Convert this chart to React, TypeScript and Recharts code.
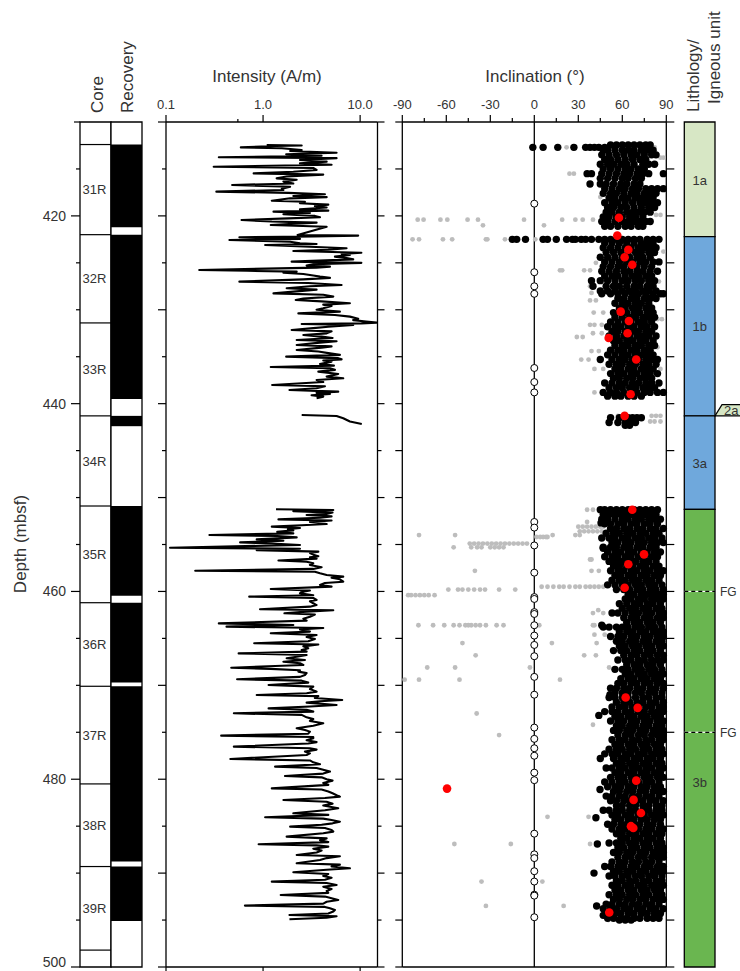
import React from 'react';
import { ComposedChart, Scatter, XAxis, YAxis, ReferenceArea, ReferenceLine } from 'recharts';

const W = 740;
const H = 971;
const TOP = 122;
const BOTTOM = 4;
const AX = 1; // reserved axis thickness (recharts skips axes of size 0)
const FONT = '"Liberation Sans", Arial, Helvetica, sans-serif';
const INK = '#000';
const TEXT = '#333';

// depth axis (mbsf)
const depthDomain = [410, 500];
const depthTicks = [410, 415, 420, 425, 430, 435, 440, 445, 450, 455, 460, 465, 470, 475, 480, 485, 490, 495, 500];
const depthLabelTicks = [420, 440, 460, 480, 500];

// cores + recovery
const coreNames = ['31R', '32R', '33R', '34R', '35R', '36R', '37R', '38R', '39R'];
const coreTops = [412.4, 422.0, 431.4, 441.3, 450.9, 461.2, 470.1, 480.5, 489.3];
const coreBases = [422.0, 431.4, 441.3, 450.9, 461.2, 470.1, 480.5, 489.3, 498.2];
const recoveryTops = [412.4, 422.0, 431.4, 441.3, 450.9, 461.2, 470.1, 480.5, 489.3];
const recoveryBases = [421.2, 431.4, 439.5, 442.4, 460.45, 469.7, 480.5, 488.75, 495.1];

// intensity (A/m)
const intensityDomain = [0.1, 15.1];
const intensityTicks = [0.1, 1, 10];
const intensityTickLabels = ['0.1', '1.0', '10.0'];
const intensityMinorTicks = [0.55];

// [depth, intensity]
const intensityUpper = [
  [412.45, 1.09], [412.5, 2.5], [412.56, 1.36], [412.7, 0.59], [412.8, 1.56], [412.98, 2.5], [413.09, 1.9], [413.27, 5.72],
  [413.44, 1.73], [413.6, 4.01], [413.76, 0.35], [413.85, 5.72], [414.05, 2.4], [414.22, 4.52], [414.4, 2.4], [414.55, 5.08],
  [414.76, 0.31], [414.9, 3.29], [415.11, 3.56], [415.3, 2.05], [415.47, 0.8], [415.6, 4.17], [415.8, 1.75], [416.0, 1.38],
  [416.15, 2.22], [416.35, 1.62], [416.55, 2.05], [416.71, 0.48], [416.9, 1.9], [417.1, 1.56], [417.24, 1.62], [417.42, 0.33],
  [417.55, 1.82], [417.7, 4.34], [417.88, 2.05], [418.0, 4.52], [418.13, 1.9], [418.38, 1.23], [418.5, 2.7], [418.66, 2.4],
  [418.8, 4.7], [418.95, 3.42], [419.1, 4.52], [419.3, 2.4], [419.44, 4.7], [419.55, 1.28], [419.7, 3.04], [419.83, 1.62],
  [420.0, 3.42], [420.15, 3.86], [420.26, 1.82], [420.44, 0.6], [420.6, 1.23], [420.72, 3.56], [420.97, 1.2], [421.15, 4.52],
  [422.03, 2.27], [422.1, 9.55], [422.2, 3.29], [422.28, 0.57], [422.45, 2.4], [422.57, 0.45], [422.75, 1.9], [422.92, 2.4],
  [423.0, 3.56], [423.1, 1.05], [423.28, 3.04], [423.45, 7.25], [423.6, 4.7], [423.74, 2.05], [423.92, 10.3], [424.05, 6.44],
  [424.16, 7.85], [424.34, 5.5], [424.5, 7.25], [424.63, 8.49], [424.87, 1.97], [425.0, 10.3], [425.15, 3.29], [425.3, 2.81],
  [425.4, 4.89], [425.51, 3.56], [425.76, 0.22], [425.85, 0.68], [425.94, 2.22], [426.05, 1.62], [426.19, 2.6], [426.35, 3.29],
  [426.47, 3.86], [426.6, 4.89], [426.76, 2.6], [427.0, 0.57], [427.15, 2.92], [427.36, 6.44], [427.5, 3.04], [427.71, 1.75],
  [427.85, 3.56], [428.25, 1.28], [428.4, 4.17], [428.6, 5.29], [428.8, 2.6], [428.96, 2.17], [429.1, 4.01], [429.31, 7.85],
  [429.45, 4.17], [429.6, 5.08], [429.84, 4.17], [430.0, 3.56], [430.2, 6.19], [430.38, 2.31], [430.55, 5.5], [430.73, 7.85],
  [430.95, 9.55], [431.1, 8.49], [431.25, 11.5], [431.37, 14.8], [431.45, 10.3], [431.51, 2.5], [431.62, 8.49], [431.8, 4.7],
  [431.95, 3.29], [432.15, 1.97], [432.3, 5.08], [432.51, 4.52], [432.68, 2.6], [432.86, 4.01], [433.0, 5.2], [433.22, 2.22],
  [433.35, 5.72], [433.5, 3.86], [433.75, 2.22], [433.9, 5.08], [434.03, 4.01], [434.28, 2.22], [434.45, 3.71], [434.64, 4.89],
  [434.8, 6.19], [434.99, 1.73], [435.15, 5.95], [435.28, 6.44], [435.4, 4.17], [435.52, 5.08], [435.77, 3.86], [435.95, 5.37],
  [436.1, 1.2], [436.23, 4.89], [436.4, 5.5], [436.59, 3.71], [436.84, 5.95], [437.12, 4.52], [437.3, 6.7], [437.48, 3.56],
  [437.7, 4.17], [438.01, 1.24], [438.15, 4.34], [438.36, 3.56], [438.55, 1.87], [438.72, 5.95], [438.85, 3.56], [438.97, 4.89],
  [439.1, 3.16], [439.25, 4.17], [439.43, 3.56],
];
const intensity34R = [[441.2, 2.5], [441.31, 5.72], [441.56, 6.7], [441.9, 7.85], [442.16, 10.4]];
const intensityLower = [
  [451.25, 1.36], [451.32, 5.29], [451.45, 2.05], [451.6, 5.2], [451.75, 4.5], [451.86, 2.81], [452.0, 5.08], [452.15, 3.86],
  [452.32, 1.44], [452.45, 5.08], [452.6, 3.04], [452.82, 4.52], [452.95, 2.5], [453.1, 1.23], [453.25, 2.4], [453.38, 1.8],
  [453.5, 2.05], [453.65, 1.4], [453.81, 2.05], [453.99, 0.28], [454.1, 1.4], [454.24, 2.22], [454.45, 0.86], [454.6, 1.62],
  [454.77, 0.58], [454.9, 1.23], [455.05, 2.4], [455.34, 0.11], [455.45, 2.4], [455.6, 0.86], [455.76, 3.71], [455.9, 3.04],
  [456.08, 3.29], [456.25, 3.71], [456.37, 3.04], [456.5, 3.56], [456.7, 1.44], [456.83, 2.81], [457.0, 3.29], [457.18, 3.04],
  [457.43, 4.01], [457.6, 3.29], [457.79, 0.2], [457.9, 3.42], [458.07, 3.86], [458.25, 4.52], [458.42, 6.7], [458.55, 5.08],
  [458.71, 6.19], [458.96, 6.7], [459.1, 4.34], [459.31, 3.86], [459.49, 5.08], [459.74, 1.2], [459.9, 3.04], [460.05, 2.5],
  [460.2, 2.4], [460.4, 3.29], [460.55, 0.72], [460.7, 3.29], [460.91, 3.56], [461.05, 3.04], [461.26, 3.29], [461.45, 3.56],
  [461.62, 3.04], [461.9, 0.93], [462.0, 5.29], [462.15, 2.81], [462.33, 1.66], [462.45, 3.42], [462.69, 3.04], [462.9, 2.6],
  [463.11, 2.81], [463.4, 0.35], [463.57, 2.05], [463.75, 0.42], [463.9, 4.17], [464.05, 2.4], [464.28, 3.04], [464.45, 1.2],
  [464.64, 3.56], [464.85, 2.81], [465.06, 3.42], [465.3, 2.92], [465.52, 0.81], [465.65, 3.71], [465.85, 2.6], [466.06, 2.92],
  [466.25, 2.5], [466.41, 2.81], [466.6, 0.56], [466.77, 2.81], [466.95, 2.22], [467.12, 1.75], [467.3, 2.7], [467.48, 1.62],
  [467.65, 2.4], [467.83, 2.6], [468.12, 0.47], [468.25, 1.2], [468.4, 2.4], [468.54, 2.31], [468.7, 2.81], [468.9, 2.7],
  [469.1, 2.4], [469.36, 0.54], [469.5, 2.5], [469.71, 2.92], [469.96, 1.14], [470.14, 3.29], [470.4, 3.04], [470.67, 3.56],
  [470.85, 2.81], [471.03, 0.86], [471.15, 3.71], [471.35, 3.42], [471.56, 6.54], [471.7, 3.86], [471.84, 2.81], [472.09, 5.72],
  [472.25, 3.04], [472.45, 1.14], [472.6, 2.81], [472.8, 3.29], [472.98, 0.5], [473.15, 2.5], [473.41, 2.81], [473.6, 3.29],
  [473.8, 3.04], [474.04, 4.17], [474.3, 3.29], [474.58, 2.22], [474.75, 2.7], [474.93, 3.04], [475.15, 2.92], [475.36, 0.37],
  [475.5, 3.29], [475.64, 3.29], [475.85, 2.81], [476.05, 3.56], [476.2, 2.92], [476.53, 0.5], [476.7, 3.04], [476.85, 3.56],
  [477.06, 2.7], [477.25, 3.04], [477.42, 2.81], [477.84, 0.46], [478.0, 3.04], [478.2, 3.29], [478.4, 3.86], [478.66, 1.33],
  [478.8, 3.56], [479.0, 4.17], [479.19, 4.89], [479.4, 4.17], [479.65, 1.68], [479.8, 4.01], [480.0, 4.52], [480.15, 5.2],
  [480.4, 4.17], [480.6, 4.7], [480.97, 1.23], [481.1, 4.01], [481.3, 4.7], [481.5, 5.2], [481.7, 5.72], [481.85, 6.19],
  [482.0, 4.34], [482.21, 1.62], [482.4, 4.52], [482.6, 5.2], [482.8, 4.17], [483.1, 5.95], [483.3, 4.34], [483.63, 2.05],
  [483.8, 4.7], [484.05, 1.05], [484.2, 4.17], [484.35, 5.08], [484.52, 6.19], [484.7, 5.2], [484.85, 4.01], [485.05, 1.9],
  [485.2, 4.34], [485.4, 5.08], [485.58, 5.29], [485.75, 4.17], [486.11, 1.75], [486.3, 4.52], [486.5, 3.86], [486.7, 4.7],
  [486.93, 0.9], [487.05, 3.56], [487.18, 4.7], [487.4, 3.29], [487.6, 4.01], [487.8, 3.56], [488.07, 2.22], [488.2, 6.19],
  [488.4, 4.52], [488.6, 3.86], [488.95, 2.22], [489.1, 6.19], [489.3, 5.08], [489.49, 7.85], [489.65, 4.52], [489.91, 2.05],
  [490.1, 4.7], [490.3, 4.17], [490.5, 5.08], [490.7, 4.34], [490.91, 1.23], [491.05, 4.52], [491.26, 5.72], [491.45, 4.17],
  [491.7, 5.08], [491.9, 4.52], [492.1, 4.7], [492.33, 1.52], [492.5, 4.34], [492.7, 5.2], [492.86, 5.95], [493.05, 4.52],
  [493.25, 4.17], [493.46, 0.65], [493.6, 4.34], [493.75, 4.89], [493.92, 5.5], [494.1, 5.29], [494.3, 4.7], [494.46, 1.87],
  [494.6, 5.72], [494.75, 4.52], [494.92, 1.87],
];

// inclination (°)
const inclinationTicks = [-90, -75, -60, -45, -30, -15, 0, 15, 30, 45, 60, 75, 90];
const inclinationLabelTicks = [-90, -60, -30, 0, 30, 60, 90];

// [depth, inclinations...] rows of grey (uncleaned) steps
const greyRows = [
  [412.7, [22, 82]], [413.8, [86, 88]], [415.5, [24, 27]], [417.3, [80, 84]], [418.0, [45]], [419.9, [83, 86]],
  [420.4, [-79.5, -75.5, -64, -59.3, -45.5, -38.4, -7, 19, 28, 33, 40]], [421.0, [-35, 6.6]],
  [422.5, [-83, -78.6, -62.3, -56, -33, -32, -20, 0.7]], [423.8, [74, 88]], [425.0, [42]], [425.8, [17.5, 19, 34, 38]],
  [427.0, [85]], [427.5, [38]], [428.2, [39, 46]], [429.0, [38, 42]], [430.3, [40.5, 47]], [431.0, [80, 84, 87]],
  [431.6, [38, 41, 46]], [432.5, [40, 46]], [432.9, [29, 33]], [434.0, [84]], [434.4, [39, 44]], [435.3, [32, 37]],
  [436.3, [41, 47, 82, 86]], [438.0, [80, 85]], [438.8, [41, 46]], [441.3, [57, 80, 83, 86]], [441.9, [79, 82, 86]],
  [451.3, [36, 40]], [452.6, [36]], [453.1, [30, 33, 36, 39, 42, 45, 47]], [453.6, [31, 34, 37, 40, 43, 46]],
  [454.0, [-78.6, -54, 12.5, 28, 31]], [454.2, [1.5, 4, 6, 8, 9]],
  [454.9, [-44, -41, -38, -35, -32, -29, -26, -23, -20, -17, -14, -11, -8, -5]],
  [455.3, [-55, -43, -39, -36, -30, -27, -24, -21]], [456.6, [38, 39]], [457.8, [-40.5, 39, 44]],
  [459.5, [5, 9, 13, 17, 20, 24, 28, 31, 35, 38, 41, 44, 47]],
  [459.8, [-58.6, -52, -49, -45, -41, -37, -33.6, -24, -13]], [460.4, [-86, -84, -81, -78, -75, -72, -68]],
  [462.0, [43.6]], [462.3, [40, 47]],
  [463.6, [-79, -69, -61.4, -55, -51, -47, -45, -43, -40, -37, -33, -25.7, -21, 3.4, 40, 41]],
  [464.6, [41, 48]], [465.5, [-49, 12, 42.5]], [466.0, [77]], [466.8, [-40, 34, 42]], [467.5, [74]],
  [468.1, [-73, -54, -3, 51]], [469.0, [83]], [469.4, [-88.4, -78.6, -51, 17.5]], [473.0, [-39.3]], [474.2, [40]],
  [475.3, [-24]], [477.0, [88]], [483.5, [80]], [484.0, [9, 37]], [486.6, [87]], [486.9, [-54.5, -16, 38]],
  [488.1, [88]], [490.9, [-36, 5.5]], [493.5, [-33, 20]], [495.0, [50.5]],
];

// [depth, inclinations...] rows of black (cleaned) steps
const blackRows = [
  [412.45, [52, 56, 60, 64, 68, 72, 76, 79]], [412.7, [-1, 6, 16, 27, 35, 38, 41, 44, 48]],
  [413.0, [47, 50, 55, 60, 64, 68, 73, 77, 81]], [413.5, [46, 51, 56, 61, 66, 70, 75, 80, 83]],
  [414.0, [48, 52, 57, 62, 67, 72, 76]], [414.5, [45, 50, 54, 59, 63, 68, 74, 78, 82]],
  [415.0, [47, 52, 57, 62, 66, 71, 75]], [415.5, [36, 39, 46, 51, 56, 61, 65, 70, 74, 78, 88]],
  [416.0, [45, 50, 55, 60, 64, 69, 73]], [416.6, [38, 45, 49, 54, 59, 63, 68, 72]],
  [417.1, [48, 53, 58, 62, 67, 71, 76, 80, 84, 88]], [417.6, [47, 52, 56, 61, 66, 70, 75, 79, 83]],
  [418.1, [51, 55, 60, 64, 69, 73, 77, 81]], [418.6, [48, 53, 57, 62, 67, 72, 76, 80, 84]],
  [419.1, [50, 54, 59, 63, 68, 73, 78, 82]], [419.6, [49, 53, 58, 63, 67, 71, 75, 79]],
  [420.1, [47, 51, 56, 60, 65, 69, 74]], [420.6, [46, 50, 55, 60, 64, 68, 72, 76, 79]],
  [421.1, [48, 52, 57, 62, 66, 71, 74]],
  [422.5, [-15, -12, -6, 6, 9, 15, 22, 26, 28, 32, 35, 39, 44, 48, 52, 56, 60, 64, 68, 72, 77, 81, 85]],
  [422.9, [48, 53, 58, 63, 68, 73, 77, 81]], [423.4, [47, 52, 57, 62, 66, 71, 75, 79, 83]],
  [423.9, [49, 54, 59, 64, 69, 73, 78, 82]], [424.4, [45, 50, 55, 60, 65, 70, 74, 79]],
  [424.9, [48, 53, 58, 63, 67, 72, 76, 81, 85]], [425.4, [47, 52, 57, 61, 66, 70, 75, 80]],
  [425.9, [46, 51, 56, 61, 65, 70, 74, 79, 84]], [426.4, [48, 53, 57, 62, 67, 71, 76, 80]],
  [426.9, [39, 45, 50, 55, 60, 64, 69, 73, 78, 82]], [427.5, [40, 49, 54, 58, 63, 68, 72, 77, 81]],
  [428.0, [45, 50, 55, 60, 65, 69, 74, 78, 83]], [428.3, [46, 52, 57, 62, 67, 71, 76, 81, 86, 88]],
  [428.8, [57, 61, 66, 70, 75, 79, 83]], [429.3, [55, 60, 64, 69, 73, 78]], [429.8, [58, 62, 67, 71, 76, 80]],
  [430.3, [54, 59, 63, 68, 72, 77, 81]], [430.8, [55, 60, 65, 69, 74, 78, 82]], [431.3, [52, 57, 62, 66, 71, 75, 80]],
  [431.8, [50, 55, 59, 64, 68, 73, 77, 82]], [432.3, [53, 57, 62, 67, 71, 76, 80]],
  [432.8, [51, 56, 61, 65, 70, 74, 78, 83]], [433.3, [54, 58, 63, 67, 72, 76, 81]],
  [433.8, [55, 60, 64, 69, 73, 78, 82]], [434.3, [52, 57, 61, 66, 70, 75, 79]],
  [434.8, [50, 55, 60, 64, 69, 73, 77, 81]], [435.3, [45, 53, 58, 62, 67, 71, 76, 80, 84]],
  [435.8, [51, 56, 60, 65, 69, 74, 78, 83]], [436.3, [55, 59, 64, 68, 73, 77, 81]],
  [436.8, [52, 57, 61, 66, 70, 75, 79, 84]], [437.3, [54, 58, 63, 67, 72, 76, 80]],
  [437.8, [48, 53, 58, 62, 67, 71, 76, 80, 85]], [438.3, [51, 56, 60, 65, 69, 74, 78, 82]],
  [438.8, [47, 52, 56, 61, 66, 70, 75, 79, 84, 88]], [439.2, [50, 55, 59, 64, 68, 73]],
  [441.5, [52, 58, 64, 67, 70, 73]], [442.0, [51, 57, 62, 66, 69]], [442.3, [62, 65]],
  [451.3, [45, 48, 52, 56, 60, 64, 68, 72, 76, 80, 84]], [451.8, [47, 51, 55, 59, 63, 67, 71, 75, 79, 83]],
  [452.3, [46, 50, 55, 60, 64, 69, 73, 78, 82, 86]], [452.8, [48, 52, 57, 61, 66, 70, 75, 79, 84]],
  [453.3, [52, 56, 61, 65, 70, 74, 79, 83, 88]], [453.8, [49, 54, 58, 63, 67, 72, 76, 81, 85]],
  [454.3, [46, 51, 55, 60, 64, 69, 73, 78, 82, 87]], [454.8, [53, 57, 62, 66, 71, 75, 80, 84, 88]],
  [455.3, [47, 52, 56, 61, 65, 70, 74, 79, 83]], [455.8, [50, 55, 59, 64, 68, 73, 77, 82, 86]],
  [456.3, [48, 53, 57, 62, 66, 71, 75, 80, 84]], [456.8, [51, 56, 60, 65, 69, 74, 78, 83]],
  [457.3, [54, 58, 63, 67, 72, 76, 81, 85]], [457.8, [52, 57, 61, 66, 70, 75, 79, 84, 88]],
  [458.3, [55, 59, 64, 68, 73, 77, 82, 86]], [458.8, [53, 58, 62, 67, 71, 76, 80, 85]],
  [459.3, [50, 55, 60, 64, 69, 73, 78, 82, 87]], [459.8, [56, 61, 65, 70, 74, 79, 83, 88]],
  [460.3, [64, 68, 73, 77, 81, 85, 88]], [460.8, [62, 66, 71, 75, 80, 84, 88]],
  [461.3, [58, 63, 68, 72, 77, 81, 86]], [461.8, [60, 65, 69, 74, 78, 83, 87]],
  [462.3, [53, 57, 62, 67, 71, 76, 80, 85, 88]], [462.8, [61, 66, 70, 75, 79, 84, 88]],
  [463.3, [63, 68, 72, 77, 81, 86]], [463.8, [47, 51, 56, 60, 64, 69, 73, 78, 82, 87]],
  [464.3, [58, 63, 67, 72, 76, 81, 85, 88]], [464.8, [52, 57, 61, 66, 70, 75, 79, 84, 88]],
  [465.3, [56, 60, 65, 69, 74, 78, 83, 87]], [465.8, [58, 62, 67, 71, 76, 80, 85, 88]],
  [466.3, [54, 59, 63, 68, 72, 77, 81, 86]], [466.8, [61, 66, 70, 75, 79, 84, 88]],
  [467.3, [57, 62, 66, 71, 75, 80, 84, 88]], [467.8, [63, 68, 72, 77, 81, 86]],
  [468.3, [55, 60, 64, 69, 73, 78, 82, 87]], [468.8, [62, 66, 71, 75, 80, 84, 88]],
  [469.3, [59, 64, 68, 73, 77, 82, 86]], [469.8, [57, 61, 66, 70, 75, 79, 84, 88]],
  [470.3, [52, 56, 61, 65, 70, 74, 79, 83, 88]], [470.8, [55, 60, 64, 69, 73, 78, 82, 87]],
  [471.3, [51, 55, 60, 64, 69, 74, 78, 83, 87]], [471.8, [56, 61, 65, 70, 74, 79, 83, 88]],
  [472.3, [53, 58, 62, 67, 71, 76, 80, 85, 88]], [472.8, [48, 53, 57, 62, 66, 71, 75, 80, 84, 88]],
  [473.3, [55, 59, 64, 68, 73, 77, 82, 86]], [473.8, [52, 57, 61, 66, 70, 75, 79, 84, 88]],
  [474.3, [56, 60, 65, 69, 74, 78, 83, 87]], [474.8, [54, 58, 63, 67, 72, 76, 81, 85, 88]],
  [475.3, [57, 62, 66, 71, 75, 80, 84, 88]], [475.8, [53, 58, 62, 67, 71, 76, 80, 85, 88]],
  [476.3, [55, 59, 64, 68, 73, 77, 82, 86]], [476.8, [51, 56, 60, 65, 69, 74, 78, 83, 87]],
  [477.3, [48, 53, 57, 62, 66, 71, 75, 80, 84, 88]], [477.8, [54, 59, 63, 68, 72, 77, 81, 86]],
  [478.3, [56, 60, 65, 69, 74, 78, 83, 87]], [478.8, [49, 53, 58, 62, 67, 71, 76, 80, 85, 88]],
  [479.3, [55, 59, 64, 68, 73, 77, 82, 86]], [479.8, [52, 57, 61, 66, 70, 75, 79, 84, 88]],
  [480.3, [48, 53, 58, 62, 67, 71, 76, 80, 85]], [480.8, [50, 55, 59, 64, 68, 73, 77, 82, 86]],
  [481.3, [54, 58, 63, 67, 72, 76, 81, 85, 88]], [481.8, [49, 53, 58, 62, 67, 71, 76, 80, 85]],
  [482.3, [52, 56, 61, 65, 70, 74, 79, 83, 88]], [482.8, [56, 60, 65, 69, 74, 78, 83, 87]],
  [483.3, [47, 51, 56, 60, 65, 69, 74, 78, 83, 87]], [483.8, [53, 57, 62, 66, 71, 75, 80, 84, 88]],
  [484.3, [55, 59, 64, 68, 73, 77, 82, 86]], [484.8, [50, 54, 59, 63, 68, 72, 77, 81, 86]],
  [485.3, [53, 58, 62, 67, 71, 76, 80, 85, 88]], [485.8, [56, 60, 65, 69, 74, 78, 83, 87]],
  [486.3, [59, 63, 68, 72, 77, 81, 86]], [486.8, [51, 56, 60, 65, 69, 74, 78, 83, 87]],
  [487.3, [57, 61, 66, 70, 75, 79, 84, 88]], [487.8, [54, 58, 63, 67, 72, 76, 81, 85, 88]],
  [488.3, [57, 62, 66, 71, 75, 80, 84, 88]], [488.8, [53, 58, 62, 67, 71, 76, 80, 85]],
  [489.3, [48, 52, 57, 61, 66, 70, 75, 79, 84, 88]], [489.8, [54, 58, 63, 67, 72, 76, 81, 85, 88]],
  [490.3, [51, 55, 60, 64, 69, 73, 78, 82, 87]], [490.8, [56, 60, 65, 69, 74, 78, 83, 87]],
  [491.3, [53, 57, 62, 66, 71, 75, 80, 84, 88]], [491.8, [55, 59, 64, 68, 73, 77, 82, 86]],
  [492.3, [51, 56, 60, 65, 69, 74, 78, 83, 87]], [492.8, [54, 58, 63, 67, 72, 76, 81, 85, 88]],
  [493.3, [49, 53, 58, 62, 67, 71, 76, 80, 85]], [493.8, [47, 52, 56, 61, 65, 70, 74, 79, 83, 88]],
  [494.3, [55, 59, 64, 68, 73, 77, 82, 86]], [494.8, [50, 54, 59, 63, 68, 72, 77, 81, 85]],
  [495.0, [58, 62, 66]],
  // scattered steps along the low-inclination edge of the cloud
  [452.7, [45.5]], [455.4, [47]], [456.8, [51.6]], [463.6, [46]], [471.0, [51.6]], [473.2, [44]],
  [477.8, [45]], [481.1, [44.8]], [484.1, [42]], [486.9, [43]], [490.0, [40.7]], [493.5, [42.5]], [494.5, [47]],
];

// [depth, inclination] characteristic remanence directions
const redPoints = [
  [420.2, 57.7], [422.1, 56.6], [423.6, 64.1], [424.4, 61.6], [425.2, 66.8], [430.2, 58.9], [431.2, 64.5],
  [432.5, 63.6], [433.0, 50.7], [435.3, 69.5], [439.0, 65.7], [441.3, 61.6], [451.3, 66.8], [456.05, 74.8],
  [457.1, 64.1], [459.6, 61.6], [471.3, 62.3], [472.4, 70.5], [480.15, 69.5], [481.0, -59.5], [482.2, 67.7],
  [483.6, 72.7], [485.0, 65.9], [485.2, 67.5], [494.2, 51.1],
];

// [depth, inclination] open circles on the zero line
const openCircles = [
  [418.7, 0], [426.0, 0], [427.5, 0], [428.3, 0], [436.2, 0], [437.7, 0], [438.8, 0], [452.6, 0], [453.2, 0],
  [455.1, 0], [458.0, 0], [460.6, 0], [460.8, 0], [462.2, 0], [462.4, 0], [463.6, 0], [464.7, 0], [465.7, 0],
  [466.9, 0], [469.1, 0], [471.0, 0], [474.5, 0], [475.7, 0], [476.7, 0], [477.5, 0], [479.3, 0], [480.1, 0],
  [485.8, 0], [488.0, 0], [488.4, 0], [489.8, 0], [490.9, 0], [492.3, 0], [492.4, 0], [494.7, 0],
];

// lithology / igneous units
const unitNames = ['1a', '1b', '3a', '3b'];
const unitTops = [410, 422.2, 441.3, 451.25];
const unitBases = [422.2, 441.3, 451.25, 500];
const unitColors = ['#d7e7c5', '#6fa8dc', '#6fa8dc', '#6ab650'];
const unitLabelDepths = [416.2, 431.8, 446.4, 480.3];
const thinUnit = { name: '2a', top: 440.1, base: 441.3, color: '#d7e7c5' };
const fgDepths = [460, 475];

const pairsToPoints = (pairs: number[][]) => pairs.map(([d, v]) => ({ x: v, y: d }));
const rowsToPoints = (rows: any[]) =>
  rows.flatMap(([d, vals]: [number, number[]]) => vals.map((v) => ({ x: v, y: d })));

const layer: React.CSSProperties = { position: 'absolute', left: 0, top: 0 };

// plot-box margins: the 1px axes sit just outside the plot
const margins = (left: number, right: number) => ({
  top: TOP - AX,
  bottom: BOTTOM - AX,
  left: left - AX,
  right: W - right - AX,
});

// tick renderers (tickSize 0, tickMargin 0 -> x/y is the plot edge)
const depthLabelTick = (p: any) => {
  const v = p.payload.value;
  const major = depthLabelTicks.includes(v);
  const len = major ? 9 : v === 410 ? 6 : 4;
  const ty = v === 500 ? p.y - 5 : p.y;
  return (
    <g>
      <line x1={p.x - len} x2={p.x} y1={p.y} y2={p.y} stroke={INK} strokeWidth={1.2} />
      {major && (
        <text x={p.x - len - 5} y={ty} dy="0.35em" textAnchor="end" fontSize={14} fill={TEXT}>
          {v}
        </text>
      )}
    </g>
  );
};

const sideTick = (dir: number, majorLen: number, minorLen: number) => (p: any) => {
  const v = p.payload.value;
  const len = v % 10 === 0 ? majorLen : minorLen;
  return <line x1={p.x} x2={p.x + dir * len} y1={p.y} y2={p.y} stroke={INK} strokeWidth={1.2} />;
};

const downTick = (p: any) => <line x1={p.x} x2={p.x} y1={p.y} y2={p.y + 5} stroke={INK} strokeWidth={1.2} />;

const intensityTopTick = (p: any) => {
  const i = intensityTicks.indexOf(p.payload.value);
  return (
    <g>
      <line x1={p.x} x2={p.x} y1={p.y} y2={p.y - (i >= 0 ? 7 : 3)} stroke={INK} strokeWidth={1.2} />
      {i >= 0 && (
        <text x={p.x} y={p.y - 13} textAnchor="middle" fontSize={13} fill={TEXT}>
          {intensityTickLabels[i]}
        </text>
      )}
    </g>
  );
};

const inclinationTopTick = (p: any) => {
  const v = p.payload.value;
  const major = inclinationLabelTicks.includes(v);
  return (
    <g>
      <line x1={p.x} x2={p.x} y1={p.y} y2={p.y - (major ? 7 : 4)} stroke={INK} strokeWidth={1.2} />
      {major && (
        <text x={p.x} y={p.y - 13} textAnchor="middle" fontSize={13} fill={TEXT}>
          {v}
        </text>
      )}
    </g>
  );
};

const noDot = () => <g />;
const dot = (r: number, fill: string, stroke = 'none', sw = 0) => (p: any) => (
  <circle cx={p.cx} cy={p.cy} r={r} fill={fill} stroke={stroke} strokeWidth={sw} />
);

const axisLine = { stroke: INK, strokeWidth: 1.3 };
const depthAxisProps = {
  type: 'number' as const,
  dataKey: 'y',
  domain: depthDomain,
  reversed: true,
  allowDataOverflow: true,
  ticks: depthTicks,
  interval: 0 as const,
  width: AX,
  tickLine: false,
  tickSize: 0,
  tickMargin: 0,
};

function CoreRecovery() {
  const labels = coreNames.map((n, i) => ({ x: 0.08, y: (coreTops[i] + coreBases[i]) / 2, label: n }));
  return (
    <ComposedChart width={W} height={H} margin={{ top: TOP, bottom: BOTTOM, left: 80 - AX, right: W - 142 }}>
      <XAxis type="number" dataKey="x" domain={[0, 2]} hide />
      <YAxis {...depthAxisProps} tick={depthLabelTick} axisLine={false} />
      <ReferenceArea x1={0} x2={1} y1={410} y2={500} fill="#fff" fillOpacity={1} stroke={INK} strokeWidth={1.3} ifOverflow="visible" />
      <ReferenceArea x1={1} x2={2} y1={410} y2={500} fill="#fff" fillOpacity={1} stroke={INK} strokeWidth={1.3} ifOverflow="visible" />
      {recoveryTops.map((t, i) => (
        <ReferenceArea key={`r${i}`} x1={1} x2={2} y1={t} y2={recoveryBases[i]} fill={INK} fillOpacity={1} stroke="none" ifOverflow="visible" />
      ))}
      {coreTops.map((t, i) => (
        <ReferenceLine key={`c${i}`} segment={[{ x: 0, y: t }, { x: 1, y: t }]} stroke={INK} strokeWidth={1.2} ifOverflow="visible" />
      ))}
      <ReferenceLine segment={[{ x: 0, y: coreBases[8] }, { x: 1, y: coreBases[8] }]} stroke={INK} strokeWidth={1.2} ifOverflow="visible" />
      <Scatter
        data={labels}
        isAnimationActive={false}
        shape={(p: any) => (
          <text x={p.cx} y={p.cy} dy="0.36em" fontSize={13} fill={TEXT}>
            {p.payload.label}
          </text>
        )}
      />
    </ComposedChart>
  );
}

function IntensityPanel() {
  const lineStyle = { stroke: INK, strokeWidth: 2.1, strokeLinejoin: 'round' as const };
  return (
    <ComposedChart width={W} height={H} margin={margins(166, 377.5)}>
      <XAxis
        xAxisId="t" orientation="top" type="number" dataKey="x" scale="log" domain={intensityDomain} allowDataOverflow
        ticks={[...intensityTicks, ...intensityMinorTicks]} interval={0} height={AX} tickSize={0} tickMargin={0}
        tickLine={false} tick={intensityTopTick} axisLine={axisLine}
      />
      <XAxis
        xAxisId="b" orientation="bottom" type="number" dataKey="x" scale="log" domain={intensityDomain} allowDataOverflow
        ticks={intensityTicks} interval={0} height={AX} tickSize={0} tickMargin={0} tickLine={false} tick={downTick} axisLine={axisLine}
      />
      <YAxis yAxisId="l" orientation="left" {...depthAxisProps} tick={sideTick(-1, 8, 4)} axisLine={axisLine} />
      <YAxis yAxisId="r" orientation="right" {...depthAxisProps} tick={sideTick(1, 7, 4)} axisLine={axisLine} />
      {[intensityUpper, intensity34R, intensityLower].map((seg, i) => (
        <Scatter
          key={i} xAxisId="t" yAxisId="l" data={pairsToPoints(seg)} fill={INK}
          line={lineStyle} lineType="joint" shape={noDot} isAnimationActive={false}
        />
      ))}
    </ComposedChart>
  );
}

function InclinationPanel() {
  return (
    <ComposedChart width={W} height={H} margin={margins(402.3, 666.3)}>
      <XAxis
        xAxisId="t" orientation="top" type="number" dataKey="x" domain={[-90, 90]} ticks={inclinationTicks} interval={0}
        height={AX} tickSize={0} tickMargin={0} tickLine={false} tick={inclinationTopTick} axisLine={axisLine}
      />
      <XAxis
        xAxisId="b" orientation="bottom" type="number" dataKey="x" domain={[-90, 90]} ticks={inclinationTicks} interval={0}
        height={AX} tickSize={0} tickMargin={0} tickLine={false} tick={downTick} axisLine={axisLine}
      />
      <YAxis yAxisId="l" orientation="left" {...depthAxisProps} tick={sideTick(-1, 7, 7)} axisLine={axisLine} />
      <YAxis yAxisId="r" orientation="right" {...depthAxisProps} tick={sideTick(1, 8, 8)} axisLine={axisLine} />
      <ReferenceLine xAxisId="t" yAxisId="l" x={0} stroke={INK} strokeWidth={1.3} />
      <Scatter xAxisId="t" yAxisId="l" data={rowsToPoints(greyRows)} shape={dot(2.4, '#bdbdbd')} isAnimationActive={false} />
      <Scatter xAxisId="t" yAxisId="l" data={rowsToPoints(blackRows)} shape={dot(3.7, '#000')} isAnimationActive={false} />
      <Scatter xAxisId="t" yAxisId="l" data={pairsToPoints(openCircles)} shape={dot(3.5, '#fff', '#000', 1)} isAnimationActive={false} />
      <Scatter xAxisId="t" yAxisId="l" data={pairsToPoints(redPoints)} shape={dot(4.3, '#ff0000')} isAnimationActive={false} />
    </ComposedChart>
  );
}

function LithologyColumn() {
  const labels = unitNames.map((n, i) => ({ x: 0.5, y: unitLabelDepths[i], label: n }));
  return (
    <ComposedChart width={W} height={H} margin={{ top: TOP, bottom: BOTTOM, left: 684.3, right: W - 715 }}>
      <XAxis type="number" dataKey="x" domain={[0, 1]} hide />
      <YAxis type="number" dataKey="y" domain={depthDomain} reversed allowDataOverflow hide />
      {unitNames.map((n, i) => (
        <ReferenceArea
          key={n} x1={0} x2={1} y1={unitTops[i]} y2={unitBases[i]} fill={unitColors[i]} fillOpacity={1}
          stroke={INK} strokeWidth={1.3} ifOverflow="visible"
        />
      ))}
      <ReferenceArea
        x1={1} x2={1.9} y1={thinUnit.top} y2={thinUnit.base} ifOverflow="visible"
        shape={(p: any) => (
          <g>
            <polygon
              points={`${p.x},${p.y + p.height} ${p.x + 7},${p.y} ${p.x + p.width},${p.y} ${p.x + p.width},${p.y + p.height}`}
              fill={thinUnit.color} stroke={INK} strokeWidth={1.2}
            />
            <text x={p.x + 9} y={p.y + p.height / 2} dy="0.36em" fontSize={13} fill={TEXT}>
              {thinUnit.name}
            </text>
          </g>
        )}
      />
      {fgDepths.map((d) => (
        <ReferenceLine key={`w${d}`} y={d} stroke="#fff" strokeWidth={1.2} />
      ))}
      {fgDepths.map((d) => (
        <ReferenceLine
          key={`fg${d}`} y={d} stroke={INK} strokeWidth={1.2} strokeDasharray="4 3"
          label={{ value: 'FG', position: 'right', offset: 5, fontSize: 12, fill: TEXT }}
        />
      ))}
      <Scatter
        data={labels}
        isAnimationActive={false}
        shape={(p: any) => (
          <text x={p.cx} y={p.cy} dy="0.36em" textAnchor="middle" fontSize={13} fill={TEXT}>
            {p.payload.label}
          </text>
        )}
      />
    </ComposedChart>
  );
}

function Titles() {
  return (
    <svg width={W} height={H} style={{ ...layer, pointerEvents: 'none' }} fontFamily={FONT} fill={TEXT}>
      <text transform="translate(26,544) rotate(-90)" textAnchor="middle" fontSize={17}>Depth (mbsf)</text>
      <text transform="translate(103,113) rotate(-90)" fontSize={17}>Core</text>
      <text transform="translate(133,113) rotate(-90)" fontSize={17}>Recovery</text>
      <text x={267} y={82} textAnchor="middle" fontSize={17}>Intensity (A/m)</text>
      <text x={535} y={82} textAnchor="middle" fontSize={17}>Inclination (°)</text>
      <text transform="translate(699,112) rotate(-90)" fontSize={17}>Lithology/</text>
      <text transform="translate(720,104) rotate(-90)" fontSize={17}>Igneous unit</text>
    </svg>
  );
}

export default function App() {
  return (
    <div style={{ position: 'absolute', left: 0, top: 0, width: W, height: H, background: '#fff', fontFamily: FONT }}>
      <div style={layer}><LithologyColumn /></div>
      <div style={layer}><CoreRecovery /></div>
      <div style={layer}><IntensityPanel /></div>
      <div style={layer}><InclinationPanel /></div>
      <Titles />
    </div>
  );
}
